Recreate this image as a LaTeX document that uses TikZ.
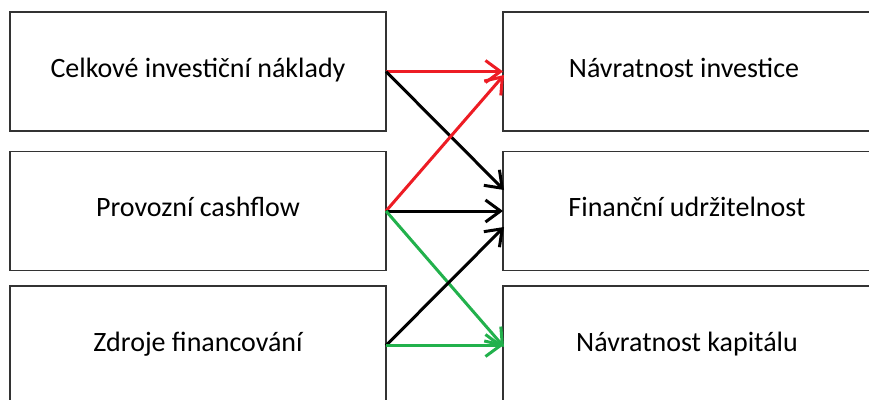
\documentclass[tikz,border=0pt]{standalone}
\usepackage{fontspec}
\setmainfont{Carlito}
\usepackage{xcolor}
\usetikzlibrary{arrows.meta}
\definecolor{arrred}{RGB}{237,28,36}
\definecolor{arrgreen}{RGB}{34,177,76}
\begin{document}
\begin{tikzpicture}[x=1pt,y=-1pt,line width=1.5pt,
  box/.style={draw=black!80,rectangle,align=center,inner sep=0pt,outer sep=0pt,
    minimum height=119pt,text height=20pt,text depth=9pt,
    font=\fontsize{28}{32}\selectfont},
  lbox/.style={box,minimum width=376pt},
  rbox/.style={box,minimum width=368pt},
  link/.style={line width=3pt,-{Straight Barb[length=15pt,width=22pt]}}]
      \useasboundingbox (0,0) rectangle (869,399);
      \clip (0,0) rectangle (869,399);
      \node [lbox] (l1) at (198,71.5) {Celkové investiční náklady};
      \node [lbox] (l2) at (198,211) {Provozní cashflow};
      \node [lbox] (l3) at (198,345.5) {Zdroje financování};

      \node [rbox] (r1) at (687,71.5) {\hspace*{-6pt}Návratnost investice};
      \node [rbox] (r2) at (687,211) {Finanční udržitelnost};
      \node [rbox] (r3) at (687,345.5) {Návratnost kapitálu};

      \coordinate (r1b) at (504,75);
      \coordinate (r2a) at (504,190);
      \coordinate (r2c) at (504,227);
      \coordinate (r3a) at (504,347);

      \draw [link,arrred]   (l1.east) -- (r1.west);
      \draw [link,black]    (l1.east) -- (r2a);
      \draw [link,arrred]   (l2.east) -- (r1b);
      \draw [link,black]    (l2.east) -- (r2.west);
      \draw [link,arrgreen] (l2.east) -- (r3a);
      \draw [link,black]    (l3.east) -- (r2c);
      \draw [link,arrgreen] (l3.east) -- (r3.west);
    \end{tikzpicture}
\end{document}
